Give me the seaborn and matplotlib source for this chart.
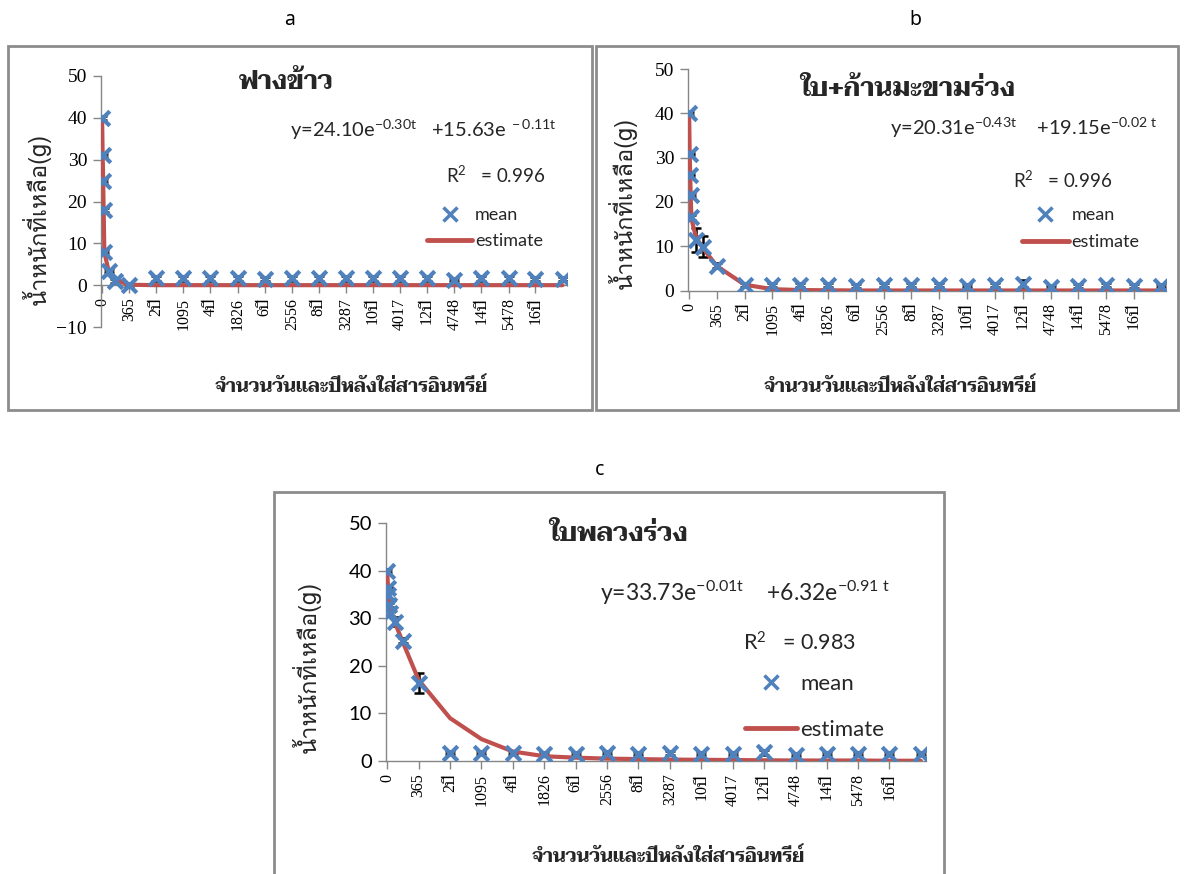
import numpy as np
import pandas as pd
import matplotlib
matplotlib.use('Agg')
import matplotlib.pyplot as plt
import seaborn as sns
from matplotlib import font_manager
from matplotlib.lines import Line2D
from matplotlib.patches import Rectangle

W, H = 1186, 874

# ---------------- data ----------------
days = [0, 7, 14, 21, 30, 90, 180, 365, 730, 1095, 1460, 1826, 2190, 2556,
        2920, 3287, 3650, 4017, 4380, 4748, 5110, 5478, 5840, 6205]
tick_days = [0, 365, 730, 1095, 1460, 1826, 2190, 2556, 2920, 3287, 3650,
             4017, 4380, 4748, 5110, 5478, 5840]
tick_labels = ['0', '365', '2ปี', '1095', '4ปี', '1826', '6ปี', '2556', '8ปี',
               '3287', '10ปี', '4017', '12ปี', '4748', '14ปี', '5478', '16ปี']

mean_a = [40, 31, 25, 18, 8, 3.5, 1.0, 0.0,
          1.6, 1.6, 1.6, 1.6, 1.5, 1.6, 1.6, 1.6, 1.6, 1.6, 1.6, 1.3, 1.6, 1.6, 1.5, 1.5]
est_a = [39.7, 31.2, 25.3, 17.6, 7.9, 3.2, 1.2, 0.1,
         0, 0, 0, 0, 0, 0, 0, 0, 0, 0, 0, 0, 0, 0, 0, 0]
err_a = [0.4, 0.4, 0.4, 0.4, 0.4, 0.4, 0.4, 0.4,
         0.5, 0.5, 0.5, 0.5, 0.5, 0.5, 0.5, 0.5, 0.5, 0.5, 0.5, 0.3, 0.5, 0.5, 0.5, 0.4]

mean_b = [40, 30.8, 26.1, 21.6, 16.5, 11.4, 9.9, 5.6,
          1.3, 1.2, 1.2, 1.2, 1.0, 1.2, 1.2, 1.2, 1.1, 1.2, 1.5, 0.7, 1.0, 1.2, 1.0, 1.1]
est_b = [39.5, 31.0, 26.0, 21.0, 16.2, 12.0, 9.6, 5.5,
         1.3, 0.3, 0.1, 0.05, 0, 0, 0, 0, 0, 0, 0, 0, 0, 0, 0, 0]
err_b = [0.3, 0.3, 0.3, 0.3, 0.5, 2.6, 2.4, 0.5,
         0.4, 0.4, 0.4, 0.4, 0.4, 0.4, 0.4, 0.4, 0.4, 0.5, 0.8, 0.3, 0.4, 0.5, 0.5, 0.4]

mean_c = [40, 36.3, 34.9, 32.8, 31.1, 29.3, 25.3, 16.4,
          1.7, 1.7, 1.7, 1.5, 1.5, 1.7, 1.5, 1.7, 1.5, 1.5, 1.8, 1.3, 1.5, 1.5, 1.5, 1.5]
est_c = [39.5, 37.0, 35.5, 34.0, 32.5, 29.0, 25.0, 17.0,
         9.0, 4.6, 2.0, 1.0, 0.7, 0.5, 0.4, 0.3, 0.25, 0.2, 0.15, 0.1, 0.1, 0.1, 0.05, 0.05]
err_c = [0.3, 0.3, 0.8, 0.4, 0.6, 1.0, 0.5, 2.1,
         0.3, 0.3, 0.3, 0.3, 0.3, 0.3, 0.3, 0.4, 0.3, 0.3, 0.6, 0.3, 0.3, 0.3, 0.3, 0.3]

titles = ['ฟางข้าว', 'ใบ+ก้านมะขามร่วง', 'ใบพลวงร่วง']
equations = ['y=24.10e$^{-0.30t}$   +15.63e$^{\\ -0.11t}$',
             'y=20.31e$^{-0.43t}$    +19.15e$^{-0.02\\ t}$',
             'y=33.73e$^{-0.01t}$    +6.32e$^{-0.91\\ t}$']
r2_texts = ['R$^{2}$   = 0.996', 'R$^{2}$   = 0.996', 'R$^{2}$   = 0.983']
panel_letters = ['a', 'b', 'c']
ylabel = 'น้ำหนักที่เหลือ(g)'
xlabel = 'จำนวนวันและปีหลังใส่สารอินทรีย์'

# ---------------- fonts ----------------
available = {f.name for f in font_manager.fontManager.ttflist}


def pick(prefs, fallback):
    for n in prefs:
        if n in available:
            return [n]
    return [fallback]


THAI_SANS = pick(['Loma', 'Tahoma', 'IBM Plex Sans Thai Looped', 'Noto Sans Thai Looped',
                  'Noto Sans Thai', 'Garuda'], 'DejaVu Sans')
THAI_SERIF = pick(['Norasi', 'Kinnari', 'Taviraj', 'Trirong', 'FreeSerif',
                   'Noto Serif Thai'], 'DejaVu Serif')

SERIF = ['Liberation Serif'] + THAI_SERIF + ['DejaVu Sans']
SANS = ['Lato'] + THAI_SANS + ['DejaVu Sans']
THAI_FAM = THAI_SANS + ['DejaVu Sans']
THAI_SERIF_FAM = THAI_SERIF + ['Liberation Serif', 'DejaVu Sans']

sns.set_theme(style='white')
plt.rcParams['font.family'] = SANS
plt.rcParams['mathtext.fontset'] = 'custom'
plt.rcParams['mathtext.rm'] = 'Lato'
plt.rcParams['mathtext.it'] = 'Lato'
plt.rcParams['mathtext.default'] = 'regular'

BLUE = '#4F81BD'
RED = '#C0504D'
GRAY = '#868686'

fig = plt.figure(figsize=(W / 100, H / 100), dpi=100)
fig.patch.set_facecolor('white')


def rect(l, r, t, b):
    return [l / W, 1 - b / H, (r - l) / W, (b - t) / H]


def ftext(x, y, s, **kw):
    fig.text(x / W, 1 - y / H, s, **kw)


panels = [
    dict(ax=(101, 567, 76, 327), ylim=(-10, 50), yfont=SERIF, yfs=14,
         frame=(8, 46, 592, 410), letter=(290, 20),
         mean=mean_a, est=est_a, err=err_a,
         title=(286, 83), tfs=18.5, eq=(290, 130), eqfs=14.5, r2=(446, 175), r2fs=13.5,
         leg=(427, 207), legfs=13, hl=2.5, ls=0.55,
         xl=(351, 387), xlfs=13.3, yl=(36, 219), ylfs=17),
    dict(ax=(688, 1166, 69, 290.5), ylim=(0, 50), yfont=SERIF, yfs=14,
         frame=(596, 46, 1178, 410), letter=(915, 20),
         mean=mean_b, est=est_b, err=err_b,
         title=(908, 90), tfs=18.5, eq=(890, 128), eqfs=14.5, r2=(1013, 180), r2fs=13.5,
         leg=(1022, 207), legfs=13, hl=2.6, ls=0.6,
         xl=(900, 387), xlfs=13.3, yl=(622, 203), ylfs=17),
    dict(ax=(386, 926, 523, 761), ylim=(0, 50), yfont=SANS, yfs=14.5,
         frame=(274, 492, 944, 880), letter=(600, 470),
         mean=mean_c, est=est_c, err=err_c,
         title=(618, 535), tfs=18.5, eq=(600, 593), eqfs=16.5, r2=(743, 643), r2fs=15.5,
         leg=(745, 674), legfs=16, hl=2.35, ls=1.15,
         xl=(668, 857), xlfs=13.3, yl=(306, 667), ylfs=17),
]

for i, p in enumerate(panels):
    fx0, fy0, fx1, fy1 = p['frame']
    fig.add_artist(Rectangle((fx0 / W, 1 - fy1 / H), (fx1 - fx0) / W, (fy1 - fy0) / H,
                             transform=fig.transFigure, fill=False,
                             edgecolor='#8c8c8c', lw=2, zorder=0))
    ftext(*p['letter'], panel_letters[i], ha='center', va='center',
          fontsize=14, family=['Noto Sans', 'DejaVu Sans'], color='black')

    ax = fig.add_axes(rect(*p['ax']))
    ax.set_facecolor('none')
    df = pd.DataFrame({'days': days, 'mean': p['mean'], 'estimate': p['est'], 'err': p['err']})

    ax.errorbar(df['days'], df['mean'], yerr=df['err'], fmt='none', ecolor='black',
                elinewidth=1.8, capsize=3.5, capthick=1.8, zorder=2)
    sns.lineplot(data=df, x='days', y='estimate', ax=ax, color=RED, lw=3,
                 sort=False, estimator=None, label='estimate', zorder=3)
    sns.scatterplot(data=df, x='days', y='mean', ax=ax, marker='x', color=BLUE,
                    s=110, linewidth=3, label='mean', zorder=4)

    # spines first (set_position resets ticks)
    for s in ['top', 'right']:
        ax.spines[s].set_visible(False)
    for s in ['left', 'bottom']:
        ax.spines[s].set_color(GRAY)
        ax.spines[s].set_linewidth(1)
    ax.spines['bottom'].set_position(('data', 0))

    ax.set_xlim(-15, 6265)
    ax.set_ylim(*p['ylim'])
    ax.set_yticks(np.arange(p['ylim'][0], 51, 10))
    ax.set_xticks(tick_days)
    ax.set_xticklabels(tick_labels)
    ax.set_xlabel('')
    ax.set_ylabel('')
    ax.tick_params(axis='both', which='major', direction='out', length=6, width=1,
                   color=GRAY, labelcolor='black', bottom=True, left=True)
    ax.tick_params(axis='x', pad=3, labelrotation=90)
    ax.tick_params(axis='y', pad=4)
    ax.grid(False)
    for lab in ax.get_xticklabels():
        lab.set_family(SERIF)
        lab.set_fontsize(11.5)
        lab.set_rotation(90)
        lab.set_va('top')
        lab.set_ha('center')
    for lab in ax.get_yticklabels():
        lab.set_family(p['yfont'])
        lab.set_fontsize(p['yfs'])

    handles = [Line2D([], [], ls='none', marker='x', color=BLUE, ms=10, mew=2.5),
               Line2D([], [], color=RED, lw=3.5)]
    lx, ly = p['leg']
    ax.legend(handles, ['mean', 'estimate'], loc='upper left',
              bbox_to_anchor=(lx / W, 1 - ly / H), bbox_transform=fig.transFigure,
              frameon=False, handlelength=p['hl'], handletextpad=0.15,
              labelspacing=p['ls'], borderpad=0, borderaxespad=0,
              prop={'family': SANS, 'size': p['legfs']})

    ftext(*p['title'], titles[i], ha='center', va='center', fontsize=p['tfs'],
          fontweight='bold', family=THAI_SERIF_FAM)
    ftext(*p['eq'], equations[i], ha='left', va='center', fontsize=p['eqfs'], family=SANS)
    ftext(*p['r2'], r2_texts[i], ha='left', va='center', fontsize=p['r2fs'], family=SANS)
    ftext(*p['xl'], xlabel, ha='center', va='center', fontsize=p['xlfs'],
          fontweight='bold', family=THAI_SERIF_FAM)
    ftext(*p['yl'], ylabel, ha='center', va='center', fontsize=p['ylfs'], rotation=90,
          family=THAI_FAM)

fig.savefig('out.png', dpi=100, facecolor='white')
